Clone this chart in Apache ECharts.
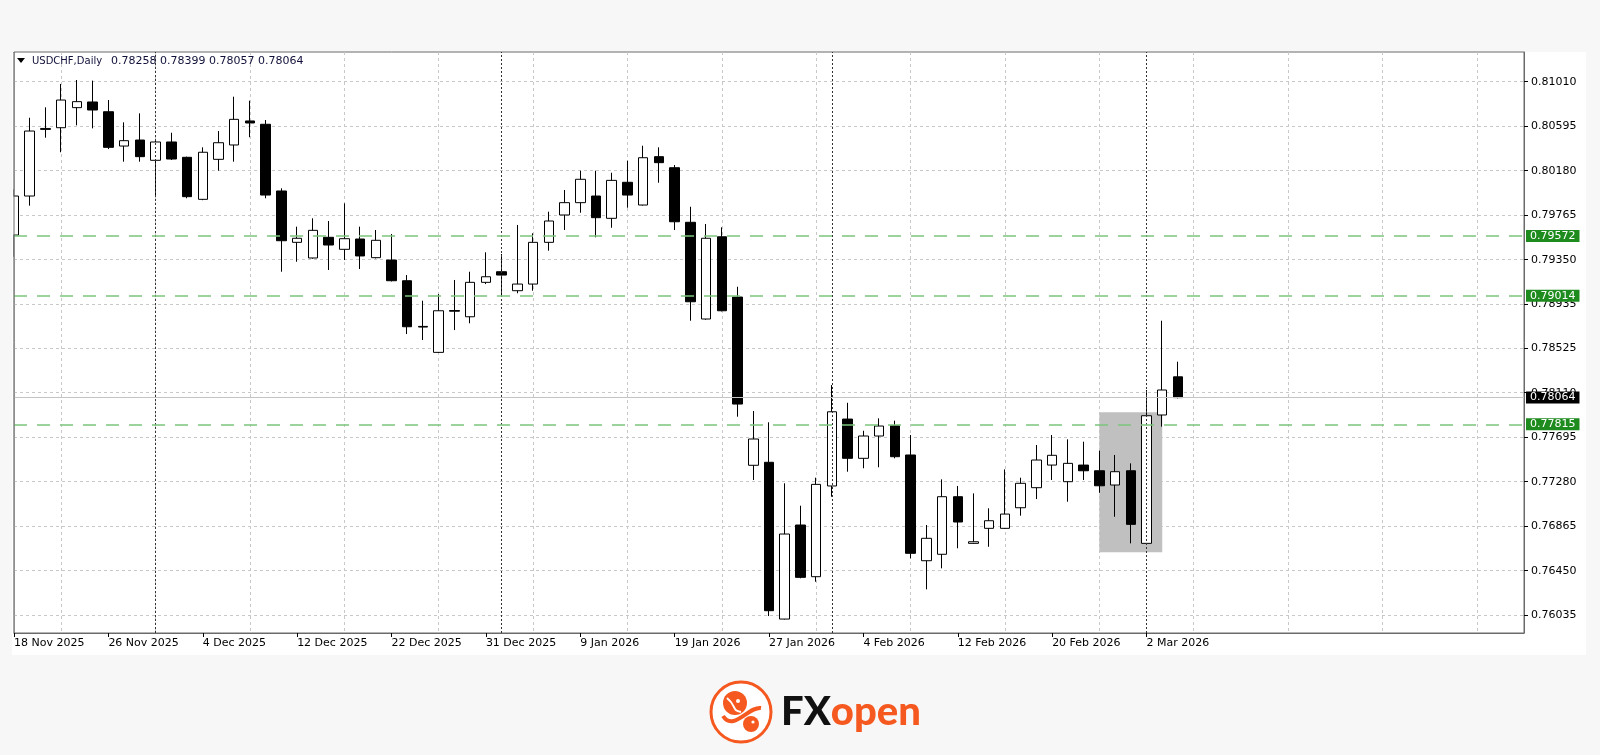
<!DOCTYPE html>
<html>
<head>
<meta charset="utf-8">
<script src="https://cdn.jsdelivr.net/npm/echarts@6/dist/echarts.min.js"></script>
<style>
html,body{margin:0;padding:0;background:#f7f7f7;}
#c{width:1600px;height:755px;}
</style>
</head>
<body>
<div id="c"></div>
<script>
// ---- DATA ----
const dates = [
 '18 Nov 2025','19 Nov 2025','20 Nov 2025','21 Nov 2025','24 Nov 2025','25 Nov 2025','26 Nov 2025','27 Nov 2025','28 Nov 2025',
 '1 Dec 2025','2 Dec 2025','3 Dec 2025','4 Dec 2025','5 Dec 2025','8 Dec 2025','9 Dec 2025','10 Dec 2025','11 Dec 2025','12 Dec 2025',
 '15 Dec 2025','16 Dec 2025','17 Dec 2025','18 Dec 2025','19 Dec 2025','22 Dec 2025','23 Dec 2025','24 Dec 2025','26 Dec 2025',
 '29 Dec 2025','30 Dec 2025','31 Dec 2025','2 Jan 2026','5 Jan 2026','6 Jan 2026','7 Jan 2026','8 Jan 2026','9 Jan 2026',
 '12 Jan 2026','13 Jan 2026','14 Jan 2026','15 Jan 2026','16 Jan 2026','19 Jan 2026','20 Jan 2026','21 Jan 2026','22 Jan 2026',
 '23 Jan 2026','26 Jan 2026','27 Jan 2026','28 Jan 2026','29 Jan 2026','30 Jan 2026','2 Feb 2026','3 Feb 2026','4 Feb 2026',
 '5 Feb 2026','6 Feb 2026','9 Feb 2026','10 Feb 2026','11 Feb 2026','12 Feb 2026','13 Feb 2026','16 Feb 2026','17 Feb 2026',
 '18 Feb 2026','19 Feb 2026','20 Feb 2026','23 Feb 2026','24 Feb 2026','25 Feb 2026','26 Feb 2026','27 Feb 2026','2 Mar 2026',
 '3 Mar 2026','4 Mar 2026'
];
const emptySlots = ['','','','','','','','','','','','','','','','','','','','','',''];

const open = [
 0.79580,0.79944,0.80565,0.80581,0.80768,0.80821,0.80730,0.80410,0.80466,0.80277,
 0.80448,0.80305,0.79913,0.80286,0.80420,0.80644,0.80613,0.79991,0.79512,0.79366,
 0.79559,0.79447,0.79543,0.79369,0.79347,0.79154,0.78728,0.78486,0.78876,0.78818,
 0.79139,0.79238,0.79061,0.79123,0.79512,0.79767,0.79882,0.79944,0.79736,0.80072,
 0.79860,0.80311,0.80208,0.79699,0.78797,0.79564,0.79002,0.77433,0.77461,0.75999,
 0.76876,0.76394,0.77240,0.77864,0.77498,0.77706,0.77802,0.77529,0.76543,0.76603,
 0.77140,0.76705,0.76845,0.76845,0.77037,0.77224,0.77435,0.77280,0.77435,0.77382,
 0.77249,0.77382,0.76705,0.77902,0.78258
];
const high = [
 0.80007,0.80674,0.80771,0.80989,0.81026,0.81020,0.80839,0.80631,0.80715,0.80457,
 0.80534,0.80311,0.80398,0.80550,0.80870,0.80833,0.80653,0.80016,0.79658,0.79736,
 0.79711,0.79876,0.79658,0.79627,0.79590,0.79207,0.78968,0.79030,0.79161,0.79238,
 0.79419,0.79403,0.79674,0.79596,0.79798,0.80000,0.80180,0.80180,0.80161,0.80273,
 0.80413,0.80398,0.80233,0.79844,0.79683,0.79652,0.79098,0.77939,0.77834,0.77265,
 0.77056,0.77317,0.78181,0.78016,0.77755,0.77871,0.77849,0.77715,0.76876,0.77302,
 0.77240,0.77171,0.77032,0.77395,0.77317,0.77622,0.77715,0.77675,0.77653,0.77569,
 0.77529,0.77451,0.78135,0.78781,0.78399
];
const low = [
 0.79378,0.79854,0.80488,0.80352,0.80603,0.80575,0.80382,0.80264,0.80264,0.79944,
 0.80280,0.79923,0.79905,0.80180,0.80264,0.80492,0.79923,0.79238,0.79331,0.79360,
 0.79254,0.79347,0.79263,0.79362,0.79147,0.78657,0.78601,0.78480,0.78694,0.78757,
 0.79123,0.79014,0.79037,0.79061,0.79434,0.79627,0.79788,0.79559,0.79648,0.79835,
 0.79855,0.80068,0.79627,0.78781,0.78790,0.78868,0.77886,0.77296,0.76027,0.75995,
 0.76379,0.76347,0.77140,0.77373,0.77405,0.77414,0.77498,0.76565,0.76276,0.76472,
 0.76659,0.76700,0.76673,0.76840,0.76963,0.77118,0.77296,0.77093,0.77296,0.77177,
 0.76953,0.76705,0.76700,0.77793,0.78057
];
const close = [
 0.79944,0.80550,0.80574,0.80839,0.80824,0.80746,0.80398,0.80460,0.80311,0.80448,
 0.80289,0.79938,0.80352,0.80441,0.80659,0.80625,0.79953,0.79527,0.79550,0.79624,
 0.79487,0.79546,0.79385,0.79531,0.79154,0.78725,0.78722,0.78874,0.78870,0.79139,
 0.79191,0.79207,0.79123,0.79512,0.79711,0.79882,0.80100,0.79742,0.80090,0.79953,
 0.80301,0.80255,0.79704,0.78958,0.79550,0.78874,0.78004,0.77678,0.76077,0.76792,
 0.76388,0.77255,0.77932,0.77498,0.77706,0.77799,0.77513,0.76612,0.76752,0.77140,
 0.76904,0.76720,0.76916,0.76978,0.77265,0.77482,0.77526,0.77451,0.77382,0.77242,
 0.77373,0.76882,0.77895,0.78135,0.78064
];

const yTicks = [0.76035,0.76450,0.76865,0.77280,0.77695,0.78110,0.78525,0.78935,0.79350,0.79765,0.80180,0.80595,0.81010];
const levelPrices = [0.79572, 0.79014, 0.77815];
const lastPrice = 0.78064;
const periodSeparators = ['1 Dec 2025','2 Jan 2026','2 Feb 2026','2 Mar 2026'];
const zoneDates = ['25 Feb 2026','3 Mar 2026'];
const zonePrices = [0.77927, 0.76621];
const symbolName = 'USDCHF,Daily';
const headerValues = ['0.78258','0.78399','0.78057','0.78064'];

// ---- CHART ----
const FONT = 'DejaVu Sans';
const ORANGE = '#f5591f';
const chart = echarts.init(document.getElementById('c'), null, {renderer:'canvas', width:1600, height:755});
const categories = dates.concat(emptySlots);
const candleData = open.map((o,i)=>[o, close[i], low[i], high[i]]);
const isLabelSlot = (i) => i % 6 === 0 && i < dates.length;

const sepLines = periodSeparators.map(d => ({
  xAxis: d,
  lineStyle:{color:'#333', type:[2,2], width:1},
  label:{show:false}
}));
const levelLines = levelPrices.map(p => ({
  yAxis: p,
  lineStyle:{color:'#7cc47c', type:[13,10], width:1.5},
  label:{show:true, position:'end', distance:2, formatter:p.toFixed(5),
    backgroundColor:'#1e8b1e', color:'#fff', fontFamily:FONT, fontSize:11, padding:[1,4,0,4]}
}));
const priceLine = {
  yAxis: lastPrice,
  lineStyle:{color:'#c4c4c4', type:'solid', width:1},
  label:{show:true, position:'end', distance:2, formatter:lastPrice.toFixed(5),
    backgroundColor:'#000', color:'#fff', fontFamily:FONT, fontSize:11, padding:[1,4,0,4]}
};

const option = {
  animation:false,
  backgroundColor:'#f7f7f7',
  textStyle:{fontFamily:FONT},
  grid:{left:14, right:76, top:52, bottom:122, show:true, backgroundColor:'#fff', borderColor:'#6a6a6a', borderWidth:1},
  xAxis:{
    type:'category', data:categories, boundaryGap:false,
    axisLine:{show:true, lineStyle:{color:'#6a6a6a'}},
    axisTick:{show:true, interval:isLabelSlot, length:4, lineStyle:{color:'#000'}},
    axisLabel:{interval:isLabelSlot, align:'left', margin:5, color:'#000', fontSize:11, fontFamily:FONT, hideOverlap:false},
    splitLine:{show:true, interval:(i)=>i%6===3, lineStyle:{color:'#c8c8c8', type:[3,3], width:1}}
  },
  yAxis:{
    type:'value', position:'right', min:0.75869, max:0.81287, scale:true,
    axisLine:{show:true, lineStyle:{color:'#6a6a6a'}},
    axisTick:{show:true, customValues:yTicks, length:4, lineStyle:{color:'#000'}},
    axisLabel:{customValues:yTicks, formatter:(v)=>v.toFixed(5), margin:7, color:'#000', fontSize:11, fontFamily:FONT},
    splitLine:{show:true, lineStyle:{color:'#c8c8c8', type:[3,3], width:1}}
  },
  graphic:[
    {type:'rect', z:-100, silent:true, shape:{x:12, y:52, width:1574, height:603}, style:{fill:'#fff'}},
    // mask the part of the first (half-scrolled) candle that lies left of the plot frame
    {type:'rect', z:100, silent:true, shape:{x:0, y:53, width:12, height:580}, style:{fill:'#f7f7f7'}},
    {type:'rect', z:100, silent:true, shape:{x:12, y:53, width:1.5, height:580}, style:{fill:'#fff'}},
    {type:'line', z:101, silent:true, shape:{x1:14, y1:52, x2:14, y2:633}, style:{stroke:'#6a6a6a', lineWidth:1}},
    {type:'polygon', z:100, shape:{points:[[17,58],[25,58],[21,63]]}, style:{fill:'#000'}},
    {type:'text', z:100, x:32, y:61, style:{text:symbolName, fill:'#10103a', font:'10px "DejaVu Sans"', textVerticalAlign:'middle'}},
    {type:'text', z:100, x:111, y:61, style:{text:headerValues.join(' '), fill:'#10103a', font:'11px "DejaVu Sans"', textVerticalAlign:'middle'}},
    {type:'group', x:741, y:712, children:[
      {type:'circle', shape:{cx:0, cy:0, r:30}, style:{fill:'#fff', stroke:ORANGE, lineWidth:3}},
      {type:'circle', shape:{cx:-6, cy:-9, r:12}, style:{fill:ORANGE}},
      {type:'circle', shape:{cx:10, cy:12, r:8}, style:{fill:ORANGE}},
      {type:'bezierCurve', shape:{x1:-18, y1:4, cpx1:-8, cpy1:20, cpx2:8, cpy2:-6, x2:20, y2:-4}, style:{fill:'none', stroke:ORANGE, lineWidth:4}},
      {type:'bezierCurve', shape:{x1:-14, y1:-14, cpx1:-4, cpy1:-6, cpx2:-10, cpy2:-2, x2:0, y2:0}, style:{fill:'none', stroke:'#fff', lineWidth:2}},
      {type:'circle', shape:{cx:-3, cy:-11, r:2}, style:{fill:'#fff'}},
      {type:'circle', shape:{cx:12, cy:10, r:1.6}, style:{fill:'#fff'}}
    ]},
    {type:'text', x:781, y:712, style:{
      text:'{a|FX}{b|open}', textVerticalAlign:'middle',
      rich:{
        a:{fill:'#111', fontSize:40, fontWeight:900, fontFamily:'Lato'},
        b:{fill:ORANGE, fontSize:40, fontWeight:900, fontFamily:'Lato'}
      }
    }}
  ],
  series:[{
    type:'candlestick',
    data:candleData,
    barWidth:10,
    clip:true,
    itemStyle:{color:'#fff', color0:'#000', borderColor:'#000', borderColor0:'#000', borderWidth:1},
    markArea:{
      silent:true,
      itemStyle:{color:'#c0c0c0', opacity:1},
      label:{show:false},
      data:[[{xAxis:zoneDates[0], yAxis:zonePrices[0]},{xAxis:zoneDates[1], yAxis:zonePrices[1]}]]
    },
    markLine:{
      silent:true, symbol:['none','none'], animation:false, precision:5,
      data: sepLines.concat(levelLines).concat([priceLine])
    }
  }]
};
chart.setOption(option);
</script>
</body>
</html>
